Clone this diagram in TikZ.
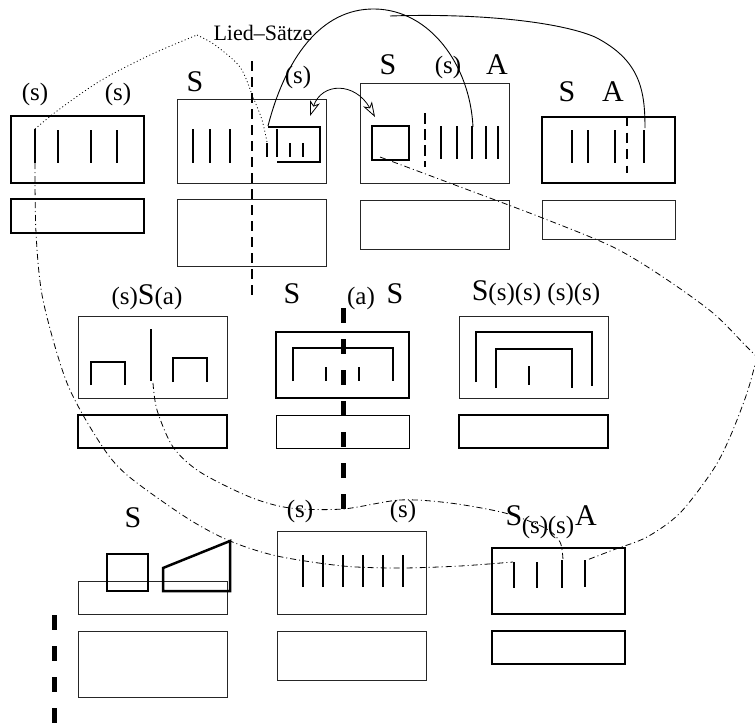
\documentclass[tikz,border=0pt]{standalone}
\usepackage{fontspec}
\setmainfont{Liberation Serif}
\usetikzlibrary{arrows.meta}
\newcommand{\fsBig}{\fontsize{30}{30}\selectfont}
\newcommand{\fsPar}{\fontsize{25}{25}\selectfont}
\newcommand{\fsLied}{\fontsize{22}{22}\selectfont}
\begin{document}
\begin{tikzpicture}[x=1pt,y=-1pt,
  thinbox/.style={line width=1pt,draw=black!85},
  thickbox/.style={line width=2.5pt,draw=black},
  barline/.style={line width=2.2pt},
  smallbar/.style={line width=1.8pt},
  dashthin/.style={line width=2pt,dash pattern=on 10pt off 6pt},
  dashthick/.style={line width=5pt,dash pattern=on 15pt off 16pt},
  dashdot/.style={line width=0.8pt,dash pattern=on 6pt off 3pt on 1pt off 3pt},
  dotline/.style={line width=0.8pt,dash pattern=on 1pt off 2.5pt},
  curve/.style={line width=0.9pt},
  lbl/.style={inner sep=0pt,anchor=center},
  openhead/.style={{Stealth[open,length=15pt,width=10pt,inset=4pt]}-{Stealth[open,length=15pt,width=10pt,inset=4pt]}}
]
\useasboundingbox (0,0) rectangle (755,726);

% ---------------- Row 1 ----------------
% A1
\draw[thickbox] (11,116) rectangle (144,183);
\draw[barline] (35,129) -- (35,163);
\foreach \x in {58,91,117} \draw[barline] (\x,130) -- (\x,163);
\draw[thickbox] (11,199) rectangle (144,233);
\node[lbl] (a1s1) at (35,94) {\fsPar (s)};
\node[lbl] (a1s2) at (118,94) {\fsPar (s)};
\coordinate (a1top) at (35,129);
\coordinate (a1bot) at (35,163);

% B1
\draw[thinbox] (177,99) rectangle (326,183);
\foreach \x in {193,210,230} \draw[barline] (\x,129) -- (\x,163);
\draw[thickbox] (268,127) -- (320,127) -- (320,162) -- (277,162);
\draw[barline] (277,129) -- (277,157);
\draw[smallbar] (267,143) -- (267,157);
\foreach \x in {290,303} \draw[smallbar] (\x,143) -- (\x,157);
\draw[thinbox] (177,199) rectangle (326,266);
\draw[dashthin] (252,61) -- (252,298);
\node[lbl] (b1S) at (195,82) {\fsBig S};
\node[lbl] (b1s) at (298,77) {\fsPar (s)};
\node[lbl] (lied) at (263,33) {\fsLied Lied–Sätze};
\coordinate (b1small) at (267,142);
\coordinate (b1corner) at (268,126);
\coordinate (b1arr) at (310,116);

% C1
\draw[thinbox] (360,83) rectangle (509,183);
\draw[thickbox] (372,126) rectangle (409,160);
\draw[dashthin,dash pattern=on 11pt off 5pt] (425,113) -- (425,167);
\foreach \x in {441,457,472,486,498} \draw[barline] (\x,126) -- (\x,159);
\draw[thinbox] (360,200) rectangle (509,249);
\node[lbl] (c1S) at (388,65) {\fsBig S};
\node[lbl] (c1s) at (448,67) {\fsPar (s)};
\node[lbl] (c1A) at (497,65) {\fsBig A};
\coordinate (c1arr) at (375,117);
\coordinate (c1bar) at (473,127);
\coordinate (c1sq) at (380,157);

% D1
\draw[thickbox] (542,117) rectangle (675,183);
\foreach \x in {572,588,615,644} \draw[barline] (\x,130) -- (\x,163);
\draw[dashthin,dash pattern=on 10pt off 6.5pt] (627,116) -- (627,173);
\draw[thinbox] (542,200) rectangle (675,239);
\node[lbl] (d1S) at (567,92) {\fsBig S};
\node[lbl] (d1A) at (613,92) {\fsBig A};
\coordinate (d1bar) at (645,128);
\coordinate (free) at (390,16);

% ---------------- Row 2 ----------------
% A2
\draw[thinbox] (78,316) rectangle (227,398);
\draw[barline] (91,385) -- (91,362) -- (125,362) -- (125,385);
\draw[barline] (173,382) -- (173,358) -- (207,358) -- (207,382);
\draw[barline] (151,329) -- (151,381);
\draw[thickbox] (78,415) rectangle (227,448);
\node[lbl] (a2lab) at (147,297) {\fsPar (s)\fsBig S\fsPar (a)};
\coordinate (a2bar) at (153,383);

% B2
\draw[thickbox] (276,332) rectangle (409,398);
\draw[barline] (293,381) -- (293,348) -- (393,348) -- (393,381);
\foreach \x in {326,359} \draw[smallbar] (\x,367) -- (\x,381);
\draw[thinbox,draw=black] (276,415) rectangle (409,448);
\draw[dashthick] (343,308) -- (343,509);
\node[lbl] (b2S1) at (292,294) {\fsBig S};
\node[lbl] (b2a) at (361,298) {\fsPar (a)};
\node[lbl] (b2S2) at (395,294) {\fsBig S};

% C2
\draw[thinbox] (459,316) rectangle (608,398);
\draw[barline] (476,382) -- (476,332) -- (592,332) -- (592,386);
\draw[barline] (496,388) -- (496,349) -- (572,349) -- (572,388);
\draw[barline] (529,366) -- (529,385);
\draw[thickbox] (459,415) rectangle (608,448);
\node[lbl] (c2lab) at (536,293) {\fsBig S\fsPar (s)(s) (s)(s)};

% ---------------- Row 3 ----------------
% A3
\draw[thinbox] (78,581) rectangle (227,614);
\draw[thickbox] (107,554) rectangle (148,591);
\draw[thickbox,line join=miter] (163,568) -- (230,541) -- (230,591) -- (163,591) -- cycle;
\draw[thinbox] (78,631) rectangle (227,697);
\draw[dashthick] (54,615) -- (54,726);
\node[lbl] (a3S) at (133,518) {\fsBig S};
\coordinate (a3corner) at (230,541);

% B3
\draw[thinbox] (277,531) rectangle (426,614);
\foreach \x in {303,323,343,363,383,403} \draw[barline] (\x,555) -- (\x,587);
\draw[thinbox] (277,631) rectangle (426,680);
\node[lbl] (b3s1) at (300,511) {\fsPar (s)};
\node[lbl] (b3s2) at (403,511) {\fsPar (s)};

% C3
\draw[thickbox] (492,548) rectangle (625,614);
\foreach \x in {514,537} \draw[barline] (\x,562) -- (\x,588);
\draw[barline] (562,560) -- (562,588);
\draw[barline] (585,560) -- (585,587);
\draw[thickbox] (492,631) rectangle (625,664);
\node[lbl] (c3S) at (514,516) {\fsBig S};
\node[lbl] (c3s1) at (535,527) {\fsPar (s)};
\node[lbl] (c3s2) at (561,527) {\fsPar (s)};
\node[lbl] (c3A) at (586,516) {\fsBig A};
\coordinate (c3b1) at (513,562);
\coordinate (c3b3) at (563,560);
\coordinate (c3b4) at (587,560);

% ---------------- Connectors ----------------
% solid curve C1 bar -> B1 inner shape
\draw[curve] (b1corner) .. controls (285,60) and (320,8) .. (375,9)
  .. controls (430,10) and (470,65) .. (c1bar);
% solid curve from free end to D1 bar
\draw[curve] (free) .. controls (480,13) and (560,22) .. (595,37)
  .. controls (640,60) and (645,90) .. (d1bar);
% double arrow
\draw[curve,line width=0.8pt,openhead] (b1arr) .. controls (322,82) and (355,82) .. (c1arr);

% dotted curve A1 -> B1
\draw[dotline] plot[smooth] coordinates {(a1top) (57,111) (100,81) (150,55) (197,35)};
\draw[dotline] plot[smooth] coordinates {(197,35) (215,45) (240,67) (253,97) (262,120) (b1small)};

% dash-dot C1 square -> right edge -> C3 bar 4
\draw[dashdot] plot[smooth] coordinates {(c1sq) (447,182) (540,217) (613,247) (663,277) (713,313) (745,345) (757,357)};
\draw[dashdot] plot[smooth] coordinates {(757,357) (747,393) (730,437) (713,470) (680,513) (647,537) (613,550) (c3b4)};

% dash-dot A1 bar -> C3 bar 1
\draw[dashdot] plot[smooth] coordinates {(a1bot) (36,233) (43,300) (67,383) (100,443) (127,475) (187,518) (a3corner) (277,556) (343,566) (400,568) (460,566) (c3b1)};

% dash-dot A2 bar -> C3 bar 3
\draw[dashdot] plot[smooth] coordinates {(a2bar) (157,410) (173,447) (200,472) (250,497) (290,508) (343,509) (400,500) (450,503) (505,513) (545,528) (560,542) (c3b3)};

\end{tikzpicture}
\end{document}
